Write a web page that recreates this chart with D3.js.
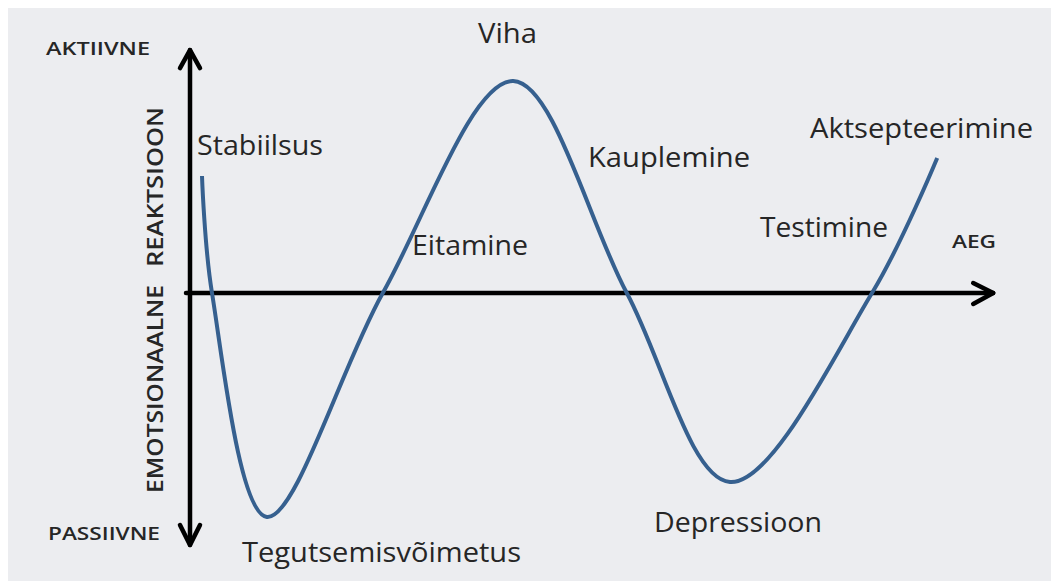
<!DOCTYPE html>
<html>
<head>
<meta charset="utf-8">
<script src="https://cdn.jsdelivr.net/npm/d3@7"></script>
<style>
  body { margin: 0; background: #fff; }
  text { font-family: 'Open Sans', 'Noto Sans', sans-serif; fill: #262626; }
</style>
</head>
<body>
<svg id="chart" width="1051" height="581"></svg>
<script>
// time (0..100) and emotional response (-100..100)
const curveT = [1.5, 2.75, 9.6, 24.1, 40.4, 54.6, 67.5, 85.25, 93.4];
const curveV = [48.75, 0, -93.3, 0, 88.3, 0, -78.75, 0, 56.25];

const stageNames = ['Stabiilsus', 'Tegutsemisvõimetus', 'Eitamine', 'Viha',
  'Kauplemine', 'Depressioon', 'Testimine', 'Aktsepteerimine'];
const axisLabels = ['AKTIIVNE', 'PASSIIVNE', 'AEG'];
const yTitleWords = ['EMOTSIONAALNE', 'REAKTSIOON'];

// label layout (pixel x, baseline y, width)
const stagePos = [
  [197, 155, 126], [242, 562, 279], [412, 255, 116], [478, 43, 59],
  [588, 167, 162], [654, 532, 168], [760, 237, 128], [810, 138, 223]
];
const axisLabelPos = [[46, 55, 104], [48, 540, 112], [952, 248, 44]];
const yTitlePos = [[163, 493, 208], [163, 267, 160]];

const svg = d3.select('#chart');

svg.append('rect')
  .attr('x', 8)
  .attr('y', 8)
  .attr('width', 1043)
  .attr('height', 573)
  .attr('fill', '#ecedf0');

const x = d3.scaleLinear().domain([0, 100]).range([190, 990]);
const y = d3.scaleLinear().domain([-100, 100]).range([533, 53]);

const axisG = svg.append('g')
  .attr('fill', 'none')
  .attr('stroke', '#000')
  .attr('stroke-width', 4.5)
  .attr('stroke-linecap', 'round')
  .attr('stroke-linejoin', 'round');

// vertical axis with arrows at both ends
const yTop = y(101.2);
const yBot = y(-105);
axisG.append('line')
  .attr('x1', x(0)).attr('y1', yTop)
  .attr('x2', x(0)).attr('y2', yBot);
axisG.append('path')
  .attr('d', `M${x(0) - 10},${yTop + 18}L${x(0)},${yTop}L${x(0) + 10},${yTop + 18}`);
axisG.append('path')
  .attr('d', `M${x(0) - 10},${yBot - 20}L${x(0)},${yBot}L${x(0) + 10},${yBot - 20}`);

// horizontal axis with arrow
const xEnd = x(100.4);
axisG.append('line')
  .attr('x1', x(0) - 4).attr('y1', y(0))
  .attr('x2', xEnd).attr('y2', y(0));
axisG.append('path')
  .attr('d', `M${xEnd - 20},${y(0) - 10}L${xEnd},${y(0)}L${xEnd - 20},${y(0) + 11}`);

// the curve
const points = curveT.map((t, i) => [t, curveV[i]]);
const line = d3.line()
  .x(d => x(d[0]))
  .y(d => y(d[1]))
  .curve(d3.curveCatmullRom.alpha(0.5));

svg.append('path')
  .datum(points)
  .attr('d', line)
  .attr('fill', 'none')
  .attr('stroke', '#36608f')
  .attr('stroke-width', 4)
  .attr('stroke-linecap', 'butt');

// stage labels
svg.append('g')
  .selectAll('text')
  .data(stageNames)
  .join('text')
  .attr('x', (d, i) => stagePos[i][0])
  .attr('y', (d, i) => stagePos[i][1])
  .attr('textLength', (d, i) => stagePos[i][2])
  .attr('lengthAdjust', 'spacingAndGlyphs')
  .style('font-size', '28px')
  .text(d => d);

// axis end labels
svg.append('g')
  .selectAll('text')
  .data(axisLabels)
  .join('text')
  .attr('x', (d, i) => axisLabelPos[i][0])
  .attr('y', (d, i) => axisLabelPos[i][1])
  .attr('textLength', (d, i) => axisLabelPos[i][2])
  .attr('lengthAdjust', 'spacingAndGlyphs')
  .style('font-size', '18px')
  .style('font-weight', '600')
  .text(d => d);

// rotated y title
svg.append('g')
  .selectAll('text')
  .data(yTitleWords)
  .join('text')
  .attr('transform', (d, i) => `translate(${yTitlePos[i][0]},${yTitlePos[i][1]}) rotate(-90)`)
  .attr('textLength', (d, i) => yTitlePos[i][2])
  .attr('lengthAdjust', 'spacingAndGlyphs')
  .style('font-size', '22px')
  .style('font-weight', '600')
  .text(d => d);
</script>
</body>
</html>
